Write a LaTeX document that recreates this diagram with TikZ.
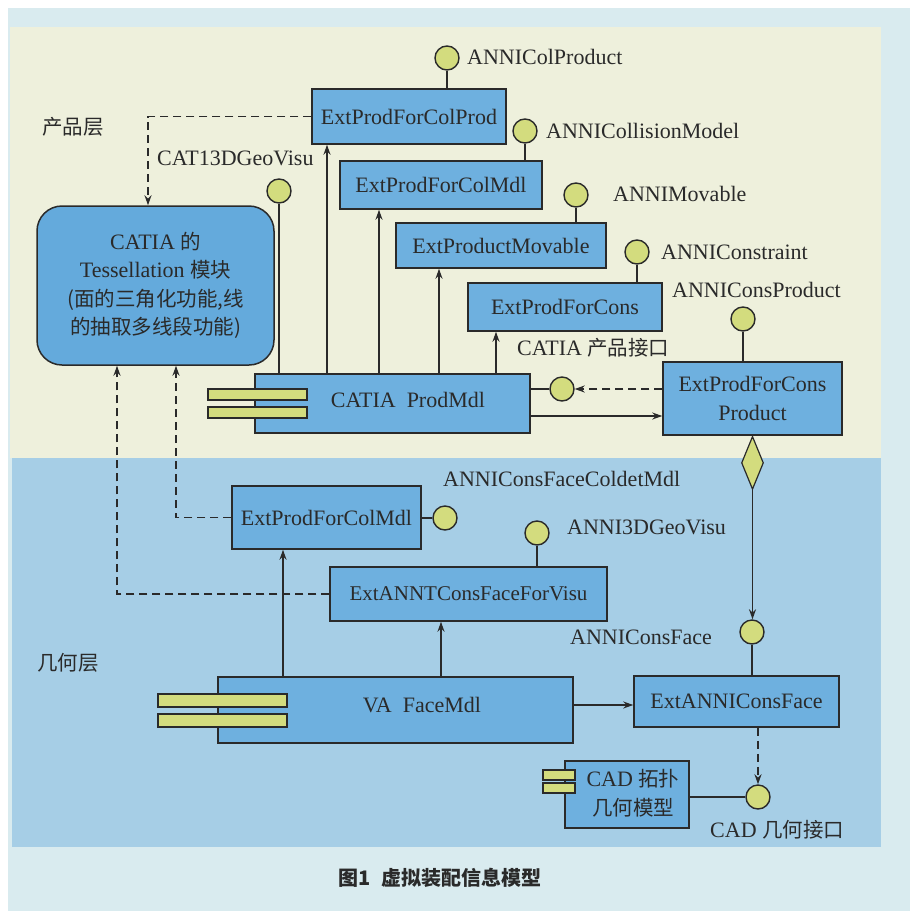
\documentclass[tikz,border=0pt]{standalone}
\usepackage{fontspec}
\usepackage{xcolor}
\usepackage{tikz}
\usetikzlibrary{arrows.meta,shapes.geometric}
\setmainfont{Liberation Serif}
\newfontfamily\zhfont{Noto Sans CJK SC}
\newcommand\zh[1]{{\zhfont\fontsize{20.5}{28.5}\selectfont #1}}
\definecolor{outerbg}{HTML}{D9EBEF}
\definecolor{prodbg}{HTML}{EEF0DC}
\definecolor{geobg}{HTML}{A6CEE6}
\definecolor{boxfill}{HTML}{6EB0DF}
\definecolor{tessfill}{HTML}{64AADC}
\definecolor{portfill}{HTML}{D3DC7E}
\definecolor{linecol}{HTML}{2A2A2A}

\begin{document}
\begin{tikzpicture}[x=1pt,y=-1pt,
    font=\fontsize{22}{28.5}\selectfont, text=linecol,
    box/.style={draw=linecol,line width=1.5pt,fill=boxfill,inner sep=2pt},
    iface/.style={circle,draw=linecol,line width=1.4pt,fill=portfill,minimum size=24pt,inner sep=0pt},
    port/.style={draw=linecol,line width=1.2pt,fill=portfill,inner sep=0pt},
    diam/.style={diamond,draw=linecol,line width=1.2pt,fill=portfill,minimum width=22pt,minimum height=53pt,inner sep=0pt},
    lbl/.style={anchor=west,inner sep=0pt},
    conn/.style={draw=linecol,line width=1.4pt},
    arr/.style={conn,-{Stealth[length=10pt,width=7pt]}},
    dasharr/.style={arr,line width=1.7pt,dash pattern=on 8pt off 5pt}]
    \useasboundingbox (0,0) rectangle (910,911);
    % backgrounds
    \fill[white] (0,0) rectangle (910,911);
    \fill[outerbg] (8,8) rectangle (910,911);
    \fill[prodbg] (10,27) rectangle (881,458);
    \fill[geobg] (12,458) rectangle (881,847);

    % product layer
    \node (prodlayer) at (73,127) {\zh{产品层}};
    \node[box,minimum width=194pt,minimum height=55pt] (colprod) at (409,116.5) {ExtProdForColProd};
    \node[box,minimum width=202pt,minimum height=48pt] (colmdl) at (441,185) {ExtProdForColMdl};
    \node[box,minimum width=210pt,minimum height=45pt] (movable) at (501,245.5) {ExtProductMovable};
    \node[box,minimum width=194pt,minimum height=48pt] (cons) at (565,307) {ExtProdForCons};
    \node[box,minimum width=179pt,minimum height=73pt,align=center] (consprod) at (752.5,398.5) {ExtProdForCons\\Product};
    \node[box,minimum width=275pt,minimum height=59pt] (prodmdl) at (392.5,403.5) {};
    \node (prodmdltxt) at (408,400) {CATIA\enspace ProdMdl};
    \node[port,minimum width=99pt,minimum height=11pt] (pm1) at (257.5,394.5) {};
    \node[port,minimum width=99pt,minimum height=11pt] (pm2) at (257.5,412.5) {};
    \node[box,fill=tessfill,rounded corners=25pt,minimum width=237pt,minimum height=159pt,align=center] (tess) at (155.5,285.5)
        {CATIA \zh{的}\\Tessellation \zh{模块}\\\zh{(面的三角化功能,线}\\\zh{的抽取多线段功能)}};

    \node[iface] (icolprod) at (447,58) {};
    \node[iface] (icolmdl) at (525,131) {};
    \node[iface] (imovable) at (576,195) {};
    \node[iface] (icons) at (637,252) {};
    \node[iface] (iconsprod) at (743,319) {};
    \node[iface] (itess) at (279,191) {};
    \node[iface] (iprodmdl) at (562,389) {};

    \node[lbl] (lcolprod) at (467,57) {ANNIColProduct};
    \node[lbl] (lcolmdl) at (546,131) {ANNICollisionModel};
    \node[lbl] (lmovable) at (613,194) {ANNIMovable};
    \node[lbl] (lcons) at (661,252) {ANNIConstraint};
    \node[lbl] (lconsprod) at (672,290) {ANNIConsProduct};
    \node[lbl] (lprodif) at (517,348) {CATIA \zh{产品接口}};
    \node[lbl] (lgeovisu) at (157,158) {CAT13DGeoVisu};

    \draw[conn] (icolprod) -- (icolprod |- colprod.north);
    \draw[conn] (icolmdl) -- (icolmdl |- colmdl.north);
    \draw[conn] (imovable) -- (imovable |- movable.north);
    \draw[conn] (icons) -- (icons |- cons.north);
    \draw[conn] (iconsprod) -- (iconsprod |- consprod.north);
    \draw[conn] (itess) -- (itess |- prodmdl.north);
    \draw[conn] (iprodmdl) -- (iprodmdl -| prodmdl.east);

    \draw[arr] ([xshift=-65.5pt]prodmdl.north) -- ([xshift=-65.5pt]prodmdl.north |- colprod.south);
    \draw[arr] ([xshift=-13.5pt]prodmdl.north) -- ([xshift=-13.5pt]prodmdl.north |- colmdl.south);
    \draw[arr] ([xshift=46.5pt]prodmdl.north) -- ([xshift=46.5pt]prodmdl.north |- movable.south);
    \draw[arr] ([xshift=103.5pt]prodmdl.north) -- ([xshift=103.5pt]prodmdl.north |- cons.south);
    \draw[arr] ([yshift=-12.5pt]prodmdl.east) -- ([yshift=-12.5pt]prodmdl.east -| consprod.west);
    \draw[dasharr] (iprodmdl -| consprod.west) -- (iprodmdl.east);
    \draw[dasharr] (colprod.west) -| ([xshift=-7.5pt]tess.north);

    % geometry layer
    \node (geolayer) at (68,663) {\zh{几何层}};
    \node[box,minimum width=189pt,minimum height=63pt] (colmdlb) at (326.5,517.5) {ExtProdForColMdl};
    \node[box,minimum width=277pt,minimum height=54pt,font=\fontsize{21}{26}\selectfont] (visu) at (468.5,594) {ExtANNTConsFaceForVisu};
    \node[box,minimum width=355pt,minimum height=66pt] (facemdl) at (395.5,710) {};
    \node (facemdltxt) at (422,705) {VA\enspace FaceMdl};
    \node[port,minimum width=129pt,minimum height=13pt] (fm1) at (222.5,700.5) {};
    \node[port,minimum width=129pt,minimum height=13pt] (fm2) at (222.5,720.5) {};
    \node[box,minimum width=205pt,minimum height=51pt] (consface) at (736.5,701.5) {ExtANNIConsFace};
    \node[box,minimum width=124pt,minimum height=67pt,align=center] (cad) at (627,794.5) {};
    \node[align=center] (cadtxt) at (633,793) {CAD \zh{拓扑}\\\zh{几何模型}};
    \node[port,minimum width=32pt,minimum height=10pt] (cd1) at (559,775) {};
    \node[port,minimum width=32pt,minimum height=10pt] (cd2) at (559,788) {};
    \node[diam,anchor=north] (agg) at (consprod.south) {};

    \node[iface] (icoldet) at (445,518) {};
    \node[iface] (ivisu) at (537,533) {};
    \node[iface] (iconsface) at (752,632) {};
    \node[iface] (icad) at (758,797) {};

    \node[lbl] (lcoldet) at (443,479) {ANNIConsFaceColdetMdl};
    \node[lbl] (lvisu) at (567,527) {ANNI3DGeoVisu};
    \node[lbl] (lconsface) at (570,637) {ANNIConsFace};
    \node[lbl] (lcadif) at (710,830) {CAD \zh{几何接口}};

    \draw[conn] (icoldet) -- (icoldet -| colmdlb.east);
    \draw[conn] (ivisu) -- (ivisu |- visu.north);
    \draw[conn] (iconsface) -- (iconsface |- consface.north);
    \draw[conn] (icad) -- (icad -| cad.east);

    \draw[arr] ([xshift=-112.5pt]facemdl.north) -- ([xshift=-112.5pt]facemdl.north |- colmdlb.south);
    \draw[arr] ([xshift=45.5pt]facemdl.north) -- ([xshift=45.5pt]facemdl.north |- visu.south);
    \draw[arr] ([yshift=5pt]facemdl.east) -- ([yshift=5pt]facemdl.east -| consface.west);
    \draw[arr] (agg.south) -- (agg.south |- iconsface.north);
    \draw[dasharr] (icad |- consface.south) -- (icad.north);
    \draw[dasharr] (colmdlb.west) -| ([xshift=20.5pt]tess.south);
    \draw[dasharr] (visu.west) -| ([xshift=-38.5pt]tess.south);

    \node[font=\zhfont\bfseries\fontsize{20}{24}\selectfont] (caption) at (440,878) {图1\enspace 虚拟装配信息模型};
\end{tikzpicture}
\end{document}
